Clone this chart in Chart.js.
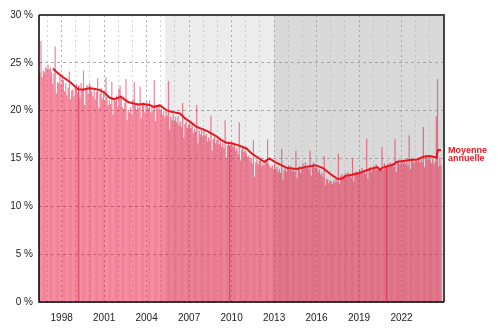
<!DOCTYPE html>
<html><head><meta charset="utf-8">
<script src="https://cdn.jsdelivr.net/npm/chart.js@4.4.1/dist/chart.umd.min.js"></script>
<style>html,body{margin:0;padding:0;background:#fff;}canvas{display:block;}</style>
</head><body>
<canvas id="c" width="500" height="334"></canvas>
<script>
// ---- data ----
const firstYear = 1996, firstMonth = 5; // May 1996
const monthlyRate = [
  23.8, 24.0, 27.3, 23.5, 24.2, 24.0, 24.6, 24.4,                    // 1996 (May-Dec)
  24.8, 24.3, 24.5, 24.0, 22.8, 23.9, 26.7, 21.8, 23.0, 22.9, 23.6, 22.8, // 1997
  23.8, 23.2, 22.0, 22.9, 21.6, 22.4, 24.1, 21.2, 22.1, 22.2, 21.5, 22.4, // 1998
  22.8, 21.9, 22.6, 21.4, 22.9, 22.1, 24.2, 20.6, 22.3, 22.7, 21.8, 22.9, // 1999
  22.6, 22.0, 21.5, 22.3, 21.2, 22.0, 23.4, 20.3, 21.8, 22.4, 21.3, 21.9, // 2000
  21.0, 23.5, 21.4, 20.6, 21.1, 20.7, 23.0, 19.6, 21.3, 21.0, 21.6, 20.4, // 2001
  22.3, 22.6, 21.6, 20.4, 20.2, 20.8, 23.3, 19.0, 20.1, 19.8, 20.4, 19.6, // 2002
  21.2, 23.0, 20.6, 20.1, 20.8, 20.3, 22.5, 19.2, 20.6, 20.9, 19.8, 20.5, // 2003
  20.9, 20.3, 21.1, 19.8, 20.4, 20.0, 23.2, 18.9, 20.6, 20.2, 20.7, 19.9, // 2004
  20.2, 19.6, 20.0, 19.3, 19.9, 19.5, 23.1, 18.0, 19.4, 19.0, 19.6, 18.9, // 2005
  19.3, 18.8, 19.4, 18.5, 18.9, 18.3, 20.8, 17.2, 18.6, 18.9, 18.2, 18.5, // 2006
  18.7, 18.2, 18.5, 17.6, 18.1, 17.8, 20.6, 16.6, 17.9, 17.5, 18.0, 17.3, // 2007
  17.9, 17.4, 17.6, 16.8, 17.2, 16.9, 19.5, 15.8, 17.0, 17.3, 16.6, 16.9, // 2008
  17.0, 16.5, 16.8, 16.2, 16.6, 16.1, 19.0, 15.0, 16.4, 16.8, 16.3, 16.5, // 2009
  16.7, 16.2, 16.5, 15.8, 16.1, 15.5, 18.8, 14.8, 15.9, 16.2, 15.7, 15.8, // 2010
  15.6, 15.2, 15.3, 14.8, 15.0, 14.5, 16.9, 13.1, 14.6, 14.9, 14.4, 14.7, // 2011
  14.9, 14.2, 14.5, 14.3, 14.8, 14.9, 17.0, 14.4, 14.2, 14.0, 14.3, 13.9, // 2012
  14.4, 13.9, 14.1, 13.6, 13.9, 13.5, 16.0, 12.8, 13.8, 14.1, 13.6, 13.9, // 2013
  14.3, 13.8, 14.2, 13.7, 14.0, 13.6, 15.8, 12.9, 13.9, 14.2, 13.5, 13.9, // 2014
  14.5, 14.1, 14.6, 14.0, 14.3, 13.9, 15.8, 13.2, 14.4, 14.6, 14.0, 14.2, // 2015
  14.0, 13.6, 13.9, 13.3, 13.5, 13.1, 15.3, 12.2, 12.9, 12.8, 12.4, 12.7, // 2016
  12.6, 12.3, 12.7, 12.5, 12.9, 12.6, 15.5, 12.3, 13.2, 13.4, 13.0, 13.3, // 2017
  13.5, 13.1, 13.6, 13.2, 13.4, 13.0, 15.0, 12.6, 13.5, 13.7, 13.3, 13.6, // 2018
  13.9, 13.5, 14.0, 13.6, 13.8, 13.4, 17.1, 12.9, 13.9, 14.1, 13.6, 13.8, // 2019
  14.2, 13.9, 14.4, 13.8, 14.1, 13.7, 13.9, 16.2, 13.8, 14.5, 14.1, 14.3, // 2020
  14.5, 14.2, 14.6, 14.3, 14.5, 14.1, 17.0, 13.6, 14.7, 14.9, 14.4, 14.6, // 2021
  14.9, 14.5, 14.8, 14.4, 14.7, 14.3, 17.4, 13.9, 14.8, 15.0, 14.5, 14.7, // 2022
  15.0, 14.7, 15.1, 14.6, 15.0, 14.6, 18.3, 14.1, 15.2, 15.3, 14.9, 15.2, // 2023
  14.8, 14.5, 15.0, 14.4, 14.7, 19.4, 23.3, 14.2, 15.1, 14.3              // 2024 (Jan-Oct)
];
const maYears = [1997.39, 1997.6, 1998.0, 1998.6, 1999.15, 1999.5, 1999.9, 2000.3, 2000.7, 2001.0,
  2001.4, 2001.7, 2002.2, 2002.5, 2002.7, 2003.1, 2003.4, 2003.75, 2004.2, 2004.5,
  2004.95, 2005.4, 2005.7, 2006.35, 2006.7, 2007.1, 2007.53, 2008.0, 2008.35, 2008.95,
  2009.3, 2009.65, 2010.0, 2010.45, 2011.05, 2011.4, 2011.85, 2012.3, 2012.68, 2013.04,
  2013.5, 2013.95, 2014.6, 2015.35, 2015.95, 2016.45, 2017.0, 2017.5, 2017.8, 2018.1,
  2018.5, 2018.95, 2019.4, 2019.8, 2020.3, 2020.47, 2020.6, 2021.0, 2021.4, 2021.65,
  2022.1, 2022.6, 2023.1, 2023.6, 2024.0, 2024.44, 2024.5, 2024.58, 2024.79];
const maValues = [24.4, 24.1, 23.6, 23.0, 22.25, 22.2, 22.35, 22.3, 22.15, 21.9,
  21.35, 21.2, 21.45, 21.1, 20.9, 20.75, 20.65, 20.7, 20.6, 20.4,
  20.55, 20.05, 19.9, 19.7, 19.2, 18.8, 18.3, 18.05, 17.8, 17.3,
  16.9, 16.65, 16.6, 16.4, 16.05, 15.55, 15.1, 14.65, 15.0, 14.65,
  14.3, 14.0, 13.9, 14.15, 14.3, 14.0, 13.35, 12.85, 12.9, 13.2,
  13.3, 13.45, 13.7, 13.9, 14.1, 13.8, 14.0, 14.2, 14.35, 14.65,
  14.75, 14.85, 14.9, 15.2, 15.25, 15.1, 15.45, 15.9, 15.9];
const yearTicks = [1997,1998,1999,2000,2001,2002,2003,2004,2005,2006,2007,2008,2009,2010,
  2011,2012,2013,2014,2015,2016,2017,2018,2019,2020,2021,2022,2023,2024];
const labeledYears = [1998, 2001, 2004, 2007, 2010, 2013, 2016, 2019, 2022];
const shadedFrom = [2005.3, 2013.0];
const shadedTo = [2013.0, 2025.0];
const darkMonths = ['1999-03', '2009-11', '2020-12'];
const lineLabel = ['Moyenne', 'annuelle'];

// ---- build ----
const barData = monthlyRate.map((v, i) => {
  const m = firstMonth - 1 + i;
  const yr = firstYear + Math.floor(m / 12);
  const mo = m % 12;
  return { x: yr + mo / 12 + 1 / 24, y: v, key: yr + '-' + String(mo + 1).padStart(2, '0') };
});
const maData = maYears.map((x, i) => ({ x, y: maValues[i] }));

const shading = {
  id: 'shading',
  beforeDraw(chart) {
    const { ctx, chartArea: a, scales: { x } } = chart;
    const cols = ['#ececec', '#d9d9d9'];
    ctx.save();
    shadedFrom.forEach((f, i) => {
      const x0 = x.getPixelForValue(f), x1 = x.getPixelForValue(shadedTo[i]);
      ctx.fillStyle = cols[i];
      ctx.fillRect(x0, a.top, x1 - x0, a.bottom - a.top);
    });
    ctx.restore();
  }
};
const frame = {
  id: 'frame',
  afterDraw(chart) {
    const { ctx, chartArea: a, scales: { y } } = chart;
    ctx.save();
    ctx.strokeStyle = '#444'; ctx.lineWidth = 2;
    ctx.beginPath(); ctx.moveTo(a.left, a.top); ctx.lineTo(a.right, a.top); ctx.lineTo(a.right, a.bottom); ctx.stroke();
    ctx.strokeStyle = '#000'; ctx.lineWidth = 1.5;
    ctx.beginPath(); ctx.moveTo(a.left, a.top); ctx.lineTo(a.left, a.bottom); ctx.lineTo(a.right, a.bottom); ctx.stroke();
    const yl = y.getPixelForValue(maValues[maValues.length - 1]);
    ctx.fillStyle = '#e8141e';
    ctx.font = 'bold 9px "Liberation Sans", Arial, sans-serif';
    ctx.textAlign = 'left'; ctx.textBaseline = 'alphabetic';
    ctx.fillText(lineLabel[0], a.right + 4, yl + 3);
    ctx.fillText(lineLabel[1], a.right + 4, yl + 11.5);
    ctx.restore();
  }
};

new Chart(document.getElementById('c'), {
  type: 'bar',
  data: {
    datasets: [
      { type: 'line', data: maData, borderColor: '#e8141e', borderWidth: 2, pointRadius: 0, tension: 0, order: 0 },
      { type: 'bar', data: barData, order: 1, barPercentage: 1, categoryPercentage: 1, borderWidth: 0, inflateAmount: 0,
        backgroundColor: c => (c.raw && darkMonths.includes(c.raw.key)) ? 'rgba(205,0,40,0.8)' : 'rgba(231,1,45,0.5)' }
    ]
  },
  options: {
    responsive: false, animation: false,
    layout: { padding: { top: 15, right: 56, left: 0, bottom: 0 } },
    plugins: { legend: { display: false }, tooltip: { enabled: false } },
    scales: {
      x: {
        type: 'linear', min: 1996.4, max: 2025.0, offset: false,
        afterBuildTicks: s => { s.ticks = yearTicks.map(v => ({ value: v })); },
        afterFit: s => { s.height = 32; },
        grid: { drawTicks: false, offset: false, color: c => labeledYears.includes(c.tick && c.tick.value) ? 'rgba(150,150,150,0.75)' : 'rgba(175,175,175,0.55)' },
        border: { display: false, dash: [2, 3] },
        ticks: { autoSkip: false, maxRotation: 0, padding: 10, color: '#222',
          font: { family: '"Liberation Sans", Arial, sans-serif', size: 10 },
          callback: v => labeledYears.includes(v) ? String(v) : '' }
      },
      y: {
        min: 0, max: 30,
        afterFit: s => { s.width = 39; },
        grid: { drawTicks: false, color: 'rgba(150,150,150,0.8)' },
        border: { display: false, dash: [3, 3] },
        ticks: { stepSize: 5, padding: 6, color: '#222',
          font: { family: '"Liberation Sans", Arial, sans-serif', size: 10 },
          callback: v => v + ' %' }
      }
    }
  },
  plugins: [shading, frame]
});
</script>
</body></html>
